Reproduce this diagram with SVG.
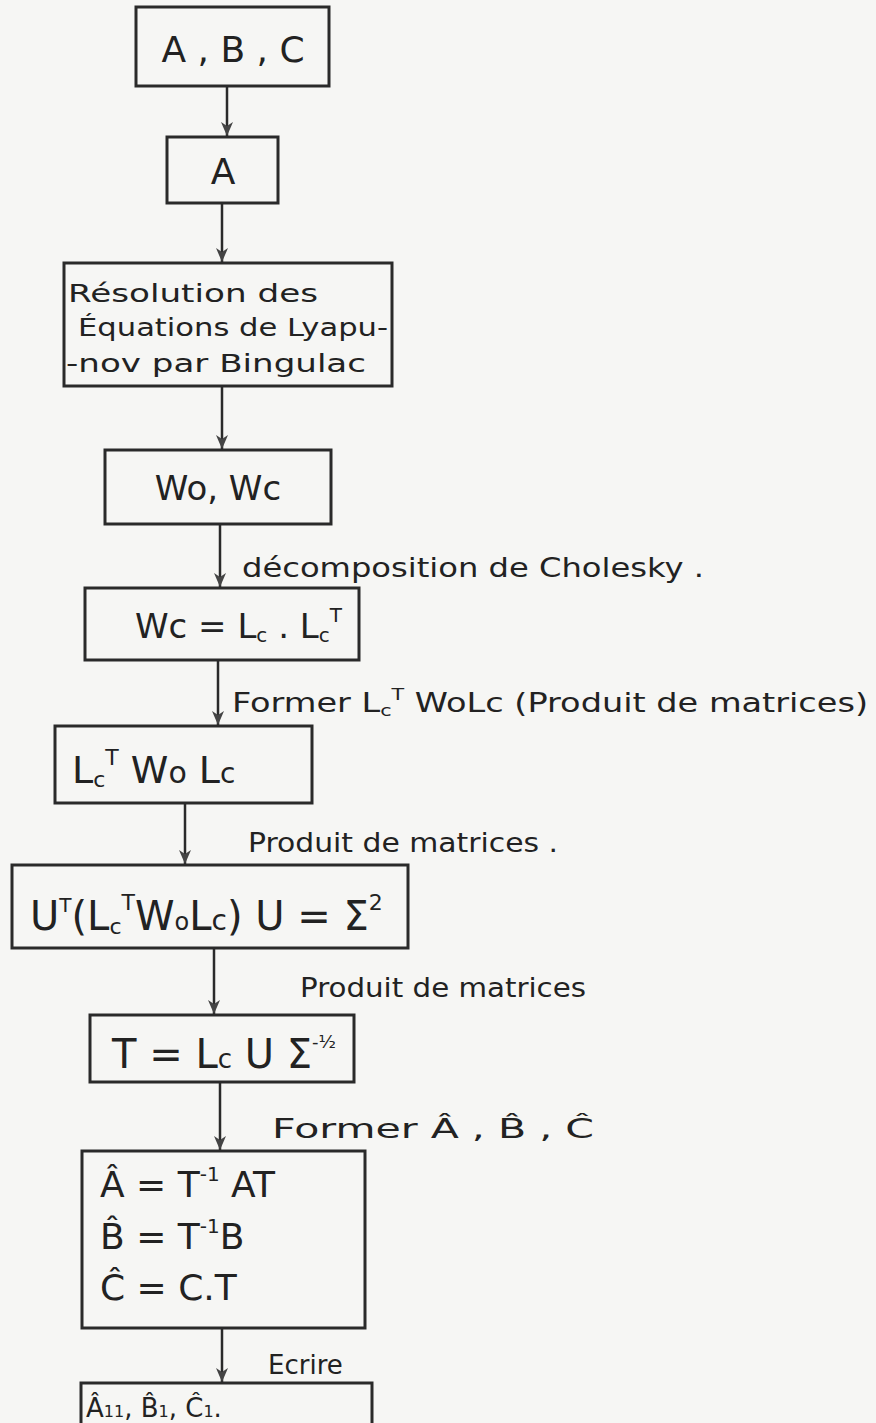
<svg xmlns="http://www.w3.org/2000/svg" width="876" height="1423" viewBox="0 0 876 1423">
<style>
.box{fill:none;stroke:#2a2a2a;stroke-width:3}
.con{stroke:#2a2a2a;stroke-width:2.5;fill:none}
text{font-family:"DejaVu Sans","Liberation Sans",sans-serif;fill:#222}
.t40{font-size:36px}
.t36{font-size:34px}
.t26{font-size:25px}
.lbl{font-size:26px}
</style>
<defs>
<marker id="ah" viewBox="0 0 14 12" refX="14" refY="6" markerWidth="14" markerHeight="12" orient="auto" markerUnits="userSpaceOnUse">
<path d="M0,0 L14,6 L0,12 L4,6 Z" fill="#444"/>
</marker>
</defs>
<rect width="876" height="1423" fill="#f6f6f4"/>
<g id="connectors">
<line class="con" x1="227" y1="86" x2="227" y2="136" marker-end="url(#ah)"/>
<line class="con" x1="222" y1="203" x2="222" y2="262" marker-end="url(#ah)"/>
<line class="con" x1="222" y1="386" x2="222" y2="449" marker-end="url(#ah)"/>
<line class="con" x1="220" y1="524" x2="220" y2="587" marker-end="url(#ah)"/>
<line class="con" x1="218" y1="660" x2="218" y2="725" marker-end="url(#ah)"/>
<line class="con" x1="185" y1="803" x2="185" y2="864" marker-end="url(#ah)"/>
<line class="con" x1="214" y1="948" x2="214" y2="1014" marker-end="url(#ah)"/>
<line class="con" x1="220" y1="1082" x2="220" y2="1150" marker-end="url(#ah)"/>
<line class="con" x1="222" y1="1328" x2="222" y2="1382" marker-end="url(#ah)"/>
<text class="lbl" x="242" y="577" textLength="462" lengthAdjust="spacingAndGlyphs">décomposition de Cholesky .</text>
<text class="lbl" x="232" y="712" textLength="636" lengthAdjust="spacingAndGlyphs">Former L<tspan font-size="16px" dy="4">c</tspan><tspan font-size="16px" dy="-16">T</tspan><tspan dy="12"> WoLc (Produit de matrices)</tspan></text>
<text class="lbl" x="248" y="852" textLength="310" lengthAdjust="spacingAndGlyphs">Produit de matrices .</text>
<text class="lbl" x="300" y="997" textLength="286" lengthAdjust="spacingAndGlyphs">Produit de matrices</text>
<text class="lbl" x="272" y="1138" textLength="322" lengthAdjust="spacingAndGlyphs">Former Â , B̂ , Ĉ</text>
<text class="lbl" x="268" y="1374" font-size="30px">Ecrire</text>
</g>
<g id="n1"><rect class="box" x="136" y="7" width="193" height="79"/><text class="t40" x="233" y="62" text-anchor="middle">A , B , C</text></g>
<g id="n2"><rect class="box" x="167" y="137" width="111" height="66"/><text class="t40" x="223" y="184" text-anchor="middle">A</text></g>
<g id="n3"><rect class="box" x="64" y="263" width="328" height="123"/>
<text class="t26" x="68" y="302" textLength="250" lengthAdjust="spacingAndGlyphs">Résolution des</text>
<text class="t26" x="78" y="336" textLength="310" lengthAdjust="spacingAndGlyphs">Équations de Lyapu-</text>
<text class="t26" x="66" y="372" textLength="300" lengthAdjust="spacingAndGlyphs">-nov  par Bingulac</text></g>
<g id="n4"><rect class="box" x="105" y="450" width="226" height="74"/><text class="t36" x="218" y="500" text-anchor="middle">Wo, Wc</text></g>
<g id="n5"><rect class="box" x="85" y="588" width="274" height="72"/><text class="t36" x="135" y="638">Wc = L<tspan font-size="20px" dy="4">c</tspan><tspan dy="-4"> . L</tspan><tspan font-size="20px" dy="4">c</tspan><tspan font-size="20px" dy="-20">T</tspan></text></g>
<g id="n6"><rect class="box" x="55" y="726" width="257" height="77"/><text x="72" y="783" font-size="38px">L<tspan font-size="22px" dy="4">c</tspan><tspan font-size="22px" dy="-22">T</tspan><tspan dy="18"> W</tspan><tspan font-size="30px">o</tspan> L<tspan font-size="28px">c</tspan></text></g>
<g id="n7"><rect class="box" x="12" y="865" width="396" height="83"/><text x="30" y="930" font-size="40px">U<tspan font-size="20px" dy="-18">T</tspan><tspan dy="18">(L</tspan><tspan font-size="22px" dy="4">c</tspan><tspan font-size="22px" dy="-24">T</tspan><tspan dy="20">W</tspan><tspan font-size="24px">o</tspan>L<tspan font-size="28px">c</tspan>) U = Σ<tspan font-size="22px" dy="-20">2</tspan></text></g>
<g id="n8"><rect class="box" x="90" y="1015" width="264" height="67"/><text x="112" y="1068" font-size="40px">T = L<tspan font-size="26px">c</tspan> U Σ<tspan font-size="18px" dy="-20">-½</tspan></text></g>
<g id="n9"><rect class="box" x="82" y="1151" width="283" height="177"/>
<text x="100" y="1197" font-size="36px">Â = T<tspan font-size="20px" dy="-16">-1</tspan><tspan dy="16"> AT</tspan></text>
<text x="100" y="1249" font-size="36px">B̂ =  T<tspan font-size="20px" dy="-16">-1</tspan><tspan dy="16">B</tspan></text>
<text x="100" y="1300" font-size="36px">Ĉ = C.T</text></g>
<g id="n10"><rect class="box" x="81" y="1383" width="291" height="45"/><text x="86" y="1417" font-size="26px">Â<tspan font-size="16px">11</tspan>, B̂<tspan font-size="16px">1</tspan>, Ĉ<tspan font-size="16px">1</tspan>.</text></g>
</svg>
